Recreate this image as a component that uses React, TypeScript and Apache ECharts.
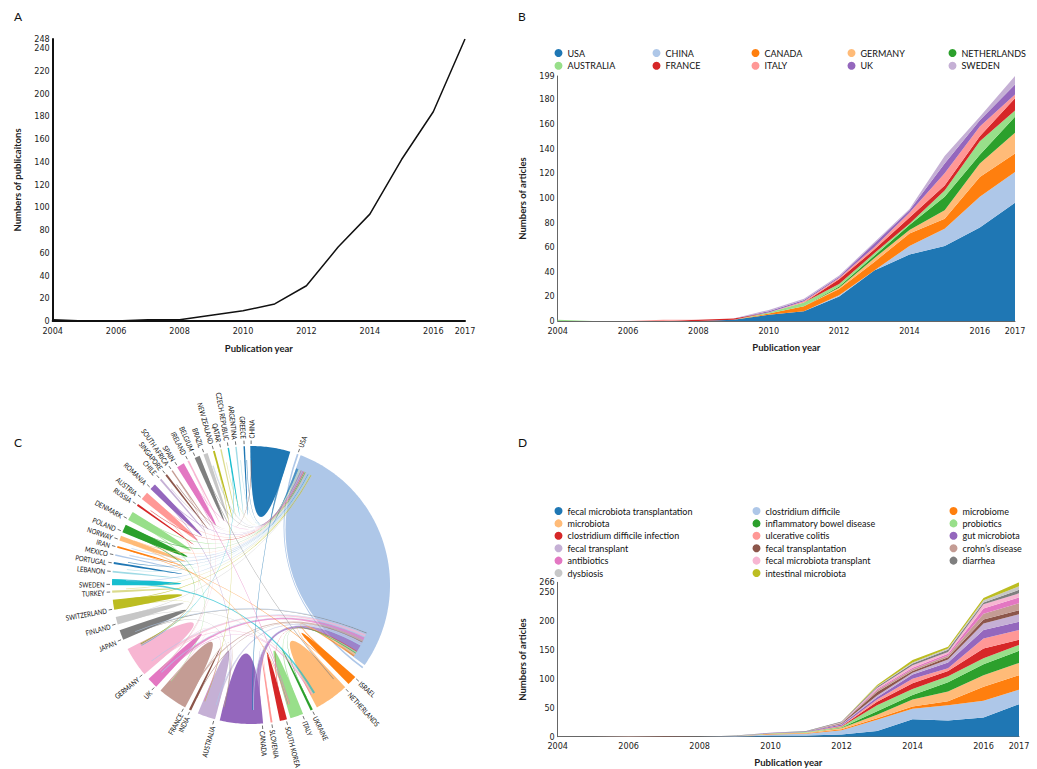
import React, { useEffect, useRef } from 'react';
import * as echarts from 'echarts';

// ---------------- DATA ----------------
const years = [2004, 2005, 2006, 2007, 2008, 2009, 2010, 2011, 2012, 2013, 2014, 2015, 2016, 2017];
const publicationsPerYear = [1, 0, 0, 1, 1, 5, 9, 15, 31, 65, 94, 142, 184, 248];

const countryNames = ['USA', 'CHINA', 'CANADA', 'GERMANY', 'NETHERLANDS', 'AUSTRALIA', 'FRANCE', 'ITALY', 'UK', 'SWEDEN'];
const usaArticles = [0, 0, 0, 0, 0, 1, 5, 8, 20, 41, 54, 61, 76, 96];
const chinaArticles = [0, 0, 0, 0, 0, 0, 0, 0, 1, 0, 7, 14, 25, 25];
const canadaArticles = [0, 0, 0, 0, 0, 0, 1, 4, 5, 7, 10, 8, 16, 15];
const germanyArticles = [0, 0, 0, 0, 0, 0, 0, 0, 1, 3, 3, 7, 11, 17];
const netherlandsArticles = [0, 0, 0, 0, 0, 0, 0, 0, 1, 2, 4, 11, 7, 13];
const australiaArticles = [1, 0, 0, 0, 0, 0, 1, 3, 2, 2, 1, 5, 11, 5];
const franceArticles = [0, 0, 0, 0, 1, 1, 0, 0, 4, 3, 5, 4, 4, 10];
const italyArticles = [0, 0, 0, 1, 0, 0, 0, 1, 1, 2, 4, 10, 8, 3];
const ukArticles = [0, 0, 0, 0, 0, 0, 1, 1, 1, 3, 2, 8, 5, 8];
const swedenArticles = [0, 0, 0, 0, 0, 0, 1, 1, 1, 1, 1, 6, 3, 7];
const countryValues = [usaArticles, chinaArticles, canadaArticles, germanyArticles, netherlandsArticles,
  australiaArticles, franceArticles, italyArticles, ukArticles, swedenArticles];

const keywordNames = [
  'fecal microbiota transplantation', 'clostridium difficile', 'microbiome',
  'microbiota', 'inflammatory bowel disease', 'probiotics',
  'clostridium difficile infection', 'ulcerative colitis', 'gut microbiota',
  'fecal transplant', 'fecal transplantation', 'crohn\u2019s disease',
  'antibiotics', 'fecal microbiota transplant', 'diarrhea',
  'dysbiosis', 'intestinal microbiota'
];
const kwFmt = [0, 0, 0, 0, 0, 0, 2, 2, 4, 10, 30, 28, 33, 56];
const kwClostridium = [0, 0, 0, 0, 0, 1, 2, 3, 7, 19, 18, 26, 29, 25];
const kwMicrobiome = [0, 0, 0, 0, 0, 0, 1, 1, 2, 3, 4, 7, 24, 25];
const kwMicrobiota = [0, 0, 0, 0, 0, 0, 0, 1, 2, 6, 12, 17, 20, 21];
const kwIbd = [0, 0, 0, 0, 0, 0, 0, 0, 1, 6, 8, 16, 19, 21];
const kwProbiotics = [0, 0, 0, 0, 0, 0, 1, 1, 1, 10, 10, 10, 10, 10];
const kwCdi = [0, 0, 0, 0, 0, 0, 0, 0, 1, 6, 10, 9, 17, 9];
const kwUc = [0, 0, 0, 0, 0, 0, 0, 0, 1, 4, 8, 5, 17, 17];
const kwGut = [0, 0, 0, 0, 0, 0, 1, 1, 2, 4, 7, 10, 15, 14];
const kwFecalTransplant = [0, 0, 0, 0, 0, 0, 0, 0, 1, 3, 3, 5, 11, 13];
const kwFecalTransplantation = [0, 0, 0, 1, 0, 0, 0, 0, 1, 6, 3, 4, 7, 7];
const kwCrohn = [0, 0, 1, 0, 0, 0, 0, 0, 1, 3, 3, 3, 10, 12];
const kwAntibiotics = [0, 0, 0, 0, 0, 0, 0, 0, 0, 2, 3, 3, 9, 10];
const kwFmtTransplant = [0, 0, 0, 0, 0, 0, 0, 0, 1, 2, 4, 3, 7, 7];
const kwDiarrhea = [0, 0, 0, 0, 0, 1, 0, 1, 1, 2, 3, 4, 3, 6];
const kwDysbiosis = [0, 0, 0, 0, 0, 0, 0, 0, 0, 1, 2, 2, 4, 6];
const kwIntestinal = [0, 0, 0, 0, 0, 0, 0, 0, 0, 2, 4, 3, 4, 7];
const keywordValues = [kwFmt, kwClostridium, kwMicrobiome, kwMicrobiota, kwIbd, kwProbiotics, kwCdi, kwUc,
  kwGut, kwFecalTransplant, kwFecalTransplantation, kwCrohn, kwAntibiotics, kwFmtTransplant, kwDiarrhea,
  kwDysbiosis, kwIntestinal];

// chord: countries in clockwise order, their total weight, and their own (main) ribbon weight
const chordCountries = ['CHINA', 'USA', 'ISRAEL', 'NETHERLANDS', 'UKRAINE', 'ITALY', 'SOUTH KOREA', 'SLOVENIA',
  'CANADA', 'AUSTRALIA', 'INDIA', 'FRANCE', 'UK', 'GERMANY', 'JAPAN', 'FINLAND', 'SWITZERLAND', 'TURKEY',
  'SWEDEN', 'LEBANON', 'PORTUGAL', 'MEXICO', 'IRAN', 'NORWAY', 'POLAND', 'DENMARK', 'RUSSIA', 'AUSTRIA',
  'ROMANIA', 'CHILE', 'SINGAPORE', 'SOUTH AFRICA', 'SPAIN', 'IRELAND', 'BELGIUM', 'BRAZIL', 'NEW ZEALAND',
  'QATAR', 'CZECH REPUBLIC', 'ARGENTINA', 'GREECE'];
const chordTotals = [18.1, 110.6, 4.4, 14.8, 2.9, 5.5, 4.6, 2.4, 18.5, 9, 1.3, 13.2, 5.6, 15.2, 5.2, 4.7, 5.6, 1.6,
  3.8, 2.0, 1.9, 1.9, 1.7, 2.1, 4.1, 5.4, 1.9, 4.0, 3.8, 1.5, 1.6, 1.3, 3.4, 1.8, 2.4, 2.6, 1.6, 1.6, 1.7, 1.9, 1.3];
const chordSelf = [16.7, 107.5, 4.0, 14.4, 1.0, 5.5, 3.0, 0.8, 18, 7.5, 1.0, 12.3, 4.5, 12.5, 4.2, 3.2, 4.2, 0.9,
  2.6, 0.7, 0.8, 0.7, 0.8, 2.0, 3.4, 3.8, 0.8, 3.4, 2.6, 0.8, 0.8, 0.6, 3.2, 0.7, 2.2, 1.8, 0.8, 0.6, 0.6, 0.6, 0.6];
const chordLinks: [string, string, number][] = [
  ['CANADA', 'USA', 3.0], ['UK', 'USA', 1.4], ['GERMANY', 'USA', 1.2], ['FRANCE', 'USA', 0.8],
  ['ISRAEL', 'USA', 0.8], ['NETHERLANDS', 'USA', 0.9], ['ITALY', 'USA', 0.6], ['AUSTRALIA', 'USA', 0.7],
  ['JAPAN', 'USA', 0.5], ['SWITZERLAND', 'USA', 0.5], ['SOUTH KOREA', 'USA', 0.4], ['CHINA', 'USA', 0.8],
  ['SWEDEN', 'NETHERLANDS', 1.0], ['FINLAND', 'NETHERLANDS', 0.4], ['BELGIUM', 'NETHERLANDS', 0.4],
  ['USA', 'CANADA', 0.5], ['USA', 'GERMANY', 0.4], ['USA', 'AUSTRALIA', 0.4], ['USA', 'UK', 0.4],
  ['USA', 'SWEDEN', 0.4], ['USA', 'MEXICO', 0.3], ['USA', 'BRAZIL', 0.3], ['USA', 'JAPAN', 0.3], ['USA', 'IRAN', 0.3],
  ['NORWAY', 'ITALY', 0.5], ['IRAN', 'ISRAEL', 0.4], ['POLAND', 'GERMANY', 0.4], ['DENMARK', 'FRANCE', 0.4],
  ['AUSTRIA', 'GERMANY', 0.4], ['ROMANIA', 'CANADA', 0.3], ['SPAIN', 'ITALY', 0.4], ['BRAZIL', 'USA', 0.3],
  ['NEW ZEALAND', 'AUSTRALIA', 0.3], ['ARGENTINA', 'USA', 0.3], ['CZECH REPUBLIC', 'GERMANY', 0.3],
  ['GREECE', 'USA', 0.3], ['PORTUGAL', 'USA', 0.3], ['MEXICO', 'USA', 0.3], ['LEBANON', 'USA', 0.3],
  ['TURKEY', 'USA', 0.3], ['RUSSIA', 'USA', 0.3], ['CHILE', 'USA', 0.3], ['SINGAPORE', 'CHINA', 0.3],
  ['SOUTH AFRICA', 'UK', 0.3], ['IRELAND', 'UK', 0.3], ['QATAR', 'USA', 0.3], ['INDIA', 'USA', 0.3],
  ['SLOVENIA', 'ITALY', 0.3], ['UKRAINE', 'USA', 0.3], ['GERMANY', 'FRANCE', 0.4], ['UK', 'AUSTRALIA', 0.4],
  ['JAPAN', 'CANADA', 0.3], ['FRANCE', 'CANADA', 0.4], ['CANADA', 'ITALY', 0.3], ['CHINA', 'CANADA', 0.4],
  ['SWITZERLAND', 'GERMANY', 0.3], ['GERMANY', 'NETHERLANDS', 0.4], ['UK', 'NETHERLANDS', 0.4],
  ['DENMARK', 'USA', 0.3], ['POLAND', 'USA', 0.3], ['AUSTRIA', 'USA', 0.3], ['ROMANIA', 'USA', 0.3],
  ['NORWAY', 'USA', 0.3], ['SPAIN', 'USA', 0.3], ['BELGIUM', 'USA', 0.3], ['FINLAND', 'USA', 0.3]
];
const chordOutlined = 'USA';

// ---------------- STYLE ----------------
const palette = ['#1f77b4', '#aec7e8', '#ff7f0e', '#ffbb78', '#2ca02c', '#98df8a', '#d62728', '#ff9896',
  '#9467bd', '#c5b0d5', '#8c564b', '#c49c94', '#e377c2', '#f7b6d2', '#7f7f7f', '#c7c7c7', '#bcbd22',
  '#dbdb8d', '#17becf', '#9edae5'];
const FONT = 'Lato, "Liberation Sans", sans-serif';
const NARROW = '"Liberation Sans Narrow", "DejaVu Sans Condensed", Lato, sans-serif';
const TXT = '#222';

// ---------------- CHORD LAYOUT ----------------
const CX = 251, CY = 585, RAD = 139, LINK_R = 0.9 * RAD, START_ANGLE = -0.3;
const nNodes = chordCountries.length;
const gapDeg = (360 - chordTotals.reduce((a, b) => a + b, 0)) / nNodes;
const nodeStart: number[] = [];
{
  let acc = START_ANGLE;
  for (let i = 0; i < nNodes; i++) { nodeStart.push(acc); acc += chordTotals[i] + gapDeg; }
}
const nodeMid = (i: number) => nodeStart[i] + chordTotals[i] / 2;
const relAngle = (i: number, j: number) => (((nodeMid(j) - nodeMid(i)) % 360) + 360) % 360;
const linkEnds: number[][][] = chordLinks.map(() => [[0, 0], [0, 0]]);
{
  const idx = (n: string) => chordCountries.indexOf(n);
  const perNode: any[][] = chordCountries.map(() => []);
  chordLinks.forEach(([s, t, w], k) => {
    const si = idx(s), ti = idx(t);
    perNode[si].push({ k, side: 0, rel: relAngle(si, ti), w });
    perNode[ti].push({ k, side: 1, rel: relAngle(ti, si), w });
  });
  perNode.forEach((ends, i) => {
    const pad = chordCountries[i] === chordOutlined ? 1.6 : 0;
    const s = nodeStart[i];
    const lo = chordSelf[i] > 2 ? s + 0.3 + pad : s;
    const hi = chordSelf[i] > 2 ? s + chordSelf[i] - 0.3 - pad : s + chordTotals[i];
    let p = lo;
    ends.filter((e) => e.rel >= 180).sort((a, b) => b.rel - a.rel).forEach((e) => {
      linkEnds[e.k][e.side] = [p, p + e.w]; p += e.w;
    });
    let q = hi;
    ends.filter((e) => e.rel < 180).sort((a, b) => a.rel - b.rel).forEach((e) => {
      linkEnds[e.k][e.side] = [q - e.w, q]; q -= e.w;
    });
  });
}
const toXY = (deg: number, r: number) => {
  const a = (deg * Math.PI) / 180;
  return [CX + r * Math.sin(a), CY - r * Math.cos(a)];
};
const f2 = (v: number) => v.toFixed(2);
const mv = (deg: number, r: number) => { const [x, y] = toXY(deg, r); return `M${f2(x)} ${f2(y)}`; };
const arcTo = (a0: number, a1: number, r: number) => {
  let d = '';
  const steps = Math.max(1, Math.ceil(Math.abs(a1 - a0) / 0.75));
  for (let k = 1; k <= steps; k++) {
    const [x, y] = toXY(a0 + ((a1 - a0) * k) / steps, r);
    d += ` L${f2(x)} ${f2(y)}`;
  }
  return d;
};
const qTo = (deg: number, r: number) => { const [x, y] = toXY(deg, r); return ` Q${CX} ${CY} ${f2(x)} ${f2(y)}`; };
const teardrop = (s: number, e: number) => mv(s, RAD) + arcTo(s, e, RAD) + qTo(s, RAD) + ' Z';
const ribbon = (a0: number, a1: number, b0: number, b1: number, r: number) =>
  mv(a0, r) + arcTo(a0, a1, r) + qTo(b0, r) + arcTo(b0, b1, r) + qTo(a0, r) + ' Z';

function renderNode(params: any) {
  const i = params.dataIndex;
  const color = palette[i % palette.length];
  const s = nodeStart[i];
  const e = s + chordSelf[i];
  const children: any[] = [];
  if (chordCountries[i] === chordOutlined) {
    children.push({ type: 'path', shape: { pathData: ribbon(s, s + 0.7, e - 0.7, e, RAD) }, style: { fill: color } });
    children.push({ type: 'path', shape: { pathData: teardrop(s + 1.6, e - 1.6) }, style: { fill: color } });
  } else {
    children.push({ type: 'path', shape: { pathData: teardrop(s, e) }, style: { fill: color } });
  }
  const la = s + Math.min(0.35, chordSelf[i] / 2);
  const ln = ((la % 360) + 360) % 360;
  const right = ln < 180;
  const rot = ((right ? 90 - ln : 270 - ln) * Math.PI) / 180;
  const [t1x, t1y] = toXY(la, RAD + 2);
  const [t2x, t2y] = toXY(la, RAD + 5.5);
  const [lx, ly] = toXY(la, RAD + 7.5);
  children.push({ type: 'line', shape: { x1: t1x, y1: t1y, x2: t2x, y2: t2y }, style: { stroke: '#333', lineWidth: 0.7 } });
  children.push({
    type: 'text', x: lx, y: ly, rotation: rot, scaleX: 0.82, scaleY: 1,
    style: {
      text: chordCountries[i], fill: '#111', fontSize: 7.3, fontFamily: FONT,
      align: right ? 'left' : 'right', verticalAlign: 'middle',
      textAlign: right ? 'left' : 'right', textVerticalAlign: 'middle'
    }
  });
  return { type: 'group', children };
}

function renderLink(params: any) {
  const k = params.dataIndex;
  const src = chordCountries.indexOf(chordLinks[k][0]);
  const [a, b] = linkEnds[k];
  return {
    type: 'path',
    shape: { pathData: ribbon(a[0], a[1], b[0], b[1], LINK_R) },
    style: { fill: palette[src % palette.length], opacity: 0.7 }
  };
}

// ---------------- AXES ----------------
function yearAxis(gridIndex: number, nameGap: number, lineColor: string, lineWidth: number) {
  return {
    gridIndex, type: 'category', data: years.map(String), boundaryGap: false,
    name: 'Publication year', nameLocation: 'middle', nameGap,
    nameTextStyle: { fontSize: 9.5, fontWeight: 'bold', color: TXT, fontFamily: FONT },
    axisLine: { show: true, onZero: false, lineStyle: { color: lineColor, width: lineWidth } },
    axisTick: { show: false }, splitLine: { show: false },
    axisLabel: {
      fontSize: 9, color: TXT, margin: 5, fontFamily: NARROW,
      interval: (i: number) => i % 2 === 0 || i === years.length - 1
    }
  };
}
function countAxis(gridIndex: number, max: number, interval: number, name: string, lineColor: string, lineWidth: number) {
  return {
    gridIndex, type: 'value', min: 0, max, interval,
    name, nameLocation: 'middle', nameGap: 30,
    nameTextStyle: { fontSize: 9.5, fontWeight: 'bold', color: TXT, fontFamily: FONT },
    axisLine: { show: true, onZero: false, lineStyle: { color: lineColor, width: lineWidth } },
    axisTick: { show: false }, splitLine: { show: false },
    axisLabel: {
      fontSize: 9, color: TXT, margin: 3, fontFamily: NARROW,
      formatter: (v: number) => String(v), showMinLabel: true, showMaxLabel: true
    }
  };
}

function columnLegends(names: string[], cols: number, lefts: number[], top: number, gap: number) {
  return lefts.map((left, c) => ({
    orient: 'vertical', left, top, padding: 0,
    itemWidth: 8, itemHeight: 8, itemGap: gap, icon: 'circle', selectedMode: false,
    data: names.filter((_, i) => i % cols === c),
    textStyle: { fontSize: 9, color: '#111', fontFamily: FONT, lineHeight: 10 }
  }));
}

function buildOption() {
  const areaSeries = (names: string[], values: number[][], axisIdx: number, stack: string) =>
    names.map((name, i) => ({
      name, type: 'line', xAxisIndex: axisIdx, yAxisIndex: axisIdx, stack,
      symbol: 'none', showSymbol: false, silent: true,
      itemStyle: { color: palette[i % palette.length] },
      lineStyle: { width: 0, color: palette[i % palette.length] },
      areaStyle: { color: palette[i % palette.length], opacity: 1 },
      data: values[i]
    }));

  const letter = (t: string, x: number, y: number) => ({
    type: 'text', x, y, silent: true,
    style: { text: t, fontSize: 12, fill: '#111', fontFamily: FONT }
  });

  return {
    animation: false,
    textStyle: { fontFamily: FONT },
    graphic: [letter('A', 14, 10), letter('B', 518, 10), letter('C', 14, 436), letter('D', 518, 436)],
    legend: [
      ...columnLegends(countryNames, 5, [554.5, 652.5, 751.5, 847.5, 948.5], 48, 2.8),
      ...columnLegends(keywordNames, 3, [554.5, 752.5, 949.5], 506, 2.4)
    ],
    grid: [
      { left: 52.7, top: 39, width: 412.3, height: 282, containLabel: false, outerBoundsMode: 'none' },
      { left: 557.7, top: 76, width: 457.3, height: 245, containLabel: false, outerBoundsMode: 'none' },
      { left: 557.7, top: 582.3, width: 461.3, height: 154.4, containLabel: false, outerBoundsMode: 'none' }
    ],
    xAxis: [yearAxis(0, 22, '#111', 2), yearAxis(1, 21, '#666', 1), yearAxis(2, 21, '#666', 1)],
    yAxis: [
      countAxis(0, 248, 20, 'Numbers of publicaitons', '#111', 2),
      countAxis(1, 199, 20, 'Numbers of articles', '#666', 1),
      countAxis(2, 266, 50, 'Numbers of articles', '#666', 1)
    ],
    series: [
      {
        name: 'publications', type: 'line', xAxisIndex: 0, yAxisIndex: 0, symbol: 'none', silent: true,
        lineStyle: { color: '#111', width: 1.5 }, itemStyle: { color: '#111' },
        data: publicationsPerYear
      },
      ...areaSeries(countryNames, countryValues, 1, 'countries'),
      ...areaSeries(keywordNames, keywordValues, 2, 'keywords'),
      {
        type: 'custom', coordinateSystem: 'none', silent: true, z: 2,
        data: chordCountries.map((_, i) => i), renderItem: renderNode
      },
      {
        type: 'custom', coordinateSystem: 'none', silent: true, z: 3,
        data: chordLinks.map((_, i) => i), renderItem: renderLink
      }
    ]
  };
}

export default function App() {
  const ref = useRef<HTMLDivElement>(null);
  useEffect(() => {
    document.body.style.margin = '0';
    const chart = echarts.init(ref.current as HTMLDivElement, undefined, { renderer: 'svg' });
    chart.setOption(buildOption() as any);
    return () => chart.dispose();
  }, []);
  return <div ref={ref} style={{ width: 1037, height: 769 }} />;
}
